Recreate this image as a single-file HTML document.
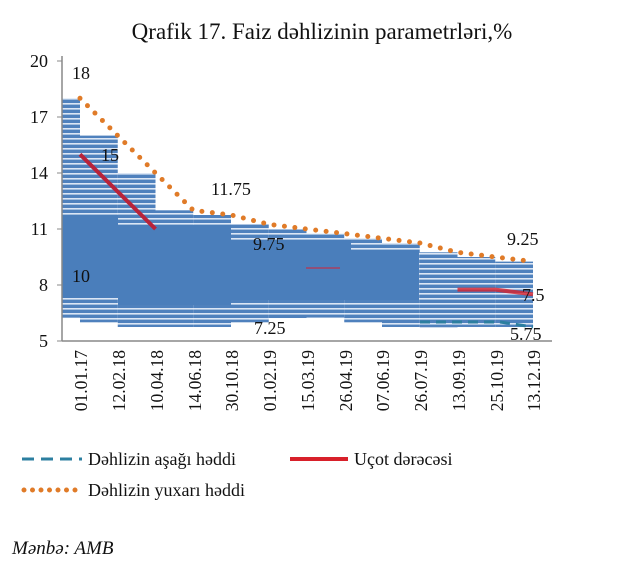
<!DOCTYPE html>
<html><head><meta charset="utf-8"><style>
html,body{margin:0;padding:0;background:#fff;width:620px;height:571px;overflow:hidden}
svg{display:block}
text{font-family:"Liberation Serif",serif;fill:#111}
</style></head><body>
<svg width="620" height="571" viewBox="0 0 620 571">
<defs>
<pattern id="st" width="6" height="5" patternUnits="userSpaceOnUse">
<rect width="6" height="5" fill="#4f81bd"/><rect y="3" width="6" height="1.6" fill="#dbe6f5"/>
</pattern>
</defs>
<text x="322" y="39" font-size="23" text-anchor="middle">Qrafik 17. Faiz dəhlizinin parametrləri,%</text>
<g fill="url(#st)">
<rect x="62" y="98.3" width="18" height="219.4"/>
<rect x="80" y="135.6" width="37.75" height="186.7"/>
<rect x="117.75" y="173" width="37.75" height="154"/>
<rect x="155.5" y="210.3" width="37.75" height="116.7"/>
<rect x="193.25" y="215" width="37.75" height="112"/>
<rect x="231" y="224.3" width="37.75" height="98"/>
<rect x="268.75" y="229" width="37.75" height="89"/>
<rect x="306.5" y="233.6" width="37.75" height="84"/>
<rect x="344.25" y="238.3" width="37.75" height="84"/>
<rect x="382" y="243" width="37.75" height="84"/>
<rect x="419.75" y="252.3" width="37.75" height="75"/>
<rect x="457.5" y="257" width="37.75" height="70"/>
<rect x="495.25" y="261.6" width="37.75" height="65.4"/>
</g>
<g fill="#4a7ebb">
<rect x="62" y="215" width="56" height="83"/>
<rect x="118" y="225" width="113" height="80"/>
<rect x="231" y="240" width="120" height="60"/>
<rect x="351" y="250" width="68" height="50"/>
</g>
<polyline points="80,154.3 117.75,191.7 155.5,229" fill="none" stroke="#b8233a" stroke-width="4"/>
<polyline points="457.5,289.6 495.25,289.6 533,294.3" fill="none" stroke="#d8202a" stroke-width="4" opacity="0.8"/>
<line x1="306" y1="268" x2="340" y2="268" stroke="#c0304a" stroke-width="2" opacity="0.6"/>
<polyline points="420,322 470,322 500,322 533,327" fill="none" stroke="#2c7fa0" stroke-width="3" stroke-dasharray="10 6"/>
<polyline points="80,98.3 117.75,135.6 155.5,173 193.25,210.3 231,215 268.75,224.3 306.5,229 344.25,233.6 382,238.3 419.75,243 457.5,252.3 495.25,257 533,261.6" fill="none" stroke="#e07b28" stroke-width="5" stroke-linecap="round" stroke-dasharray="0 10.5"/>
<line x1="62" y1="56" x2="62" y2="341" stroke="#888" stroke-width="1.5"/>
<line x1="62" y1="341" x2="552" y2="341" stroke="#888" stroke-width="1.5"/>
<g stroke="#888"><line x1="57" y1="61" x2="62" y2="61"/><line x1="57" y1="117" x2="62" y2="117"/><line x1="57" y1="173" x2="62" y2="173"/><line x1="57" y1="229" x2="62" y2="229"/><line x1="57" y1="285" x2="62" y2="285"/><line x1="57" y1="341" x2="62" y2="341"/></g>
<g font-size="18" text-anchor="end">
<text x="48" y="67">20</text><text x="48" y="123">17</text><text x="48" y="179">14</text><text x="48" y="235">11</text><text x="48" y="291">8</text><text x="48" y="347">5</text>
</g>
<g font-size="18">
<text x="72" y="79">18</text><text x="101" y="161">15</text><text x="211" y="195">11.75</text>
<text x="253" y="250">9.75</text><text x="72" y="282">10</text><text x="254" y="334">7.25</text>
<text x="507" y="245">9.25</text><text x="522" y="301">7.5</text><text x="510" y="340">5.75</text>
</g>
<g font-size="17.5" text-anchor="end">
<text transform="translate(87,350) rotate(-90)">01.01.17</text>
<text transform="translate(125,350) rotate(-90)">12.02.18</text>
<text transform="translate(163,350) rotate(-90)">10.04.18</text>
<text transform="translate(201,350) rotate(-90)">14.06.18</text>
<text transform="translate(238,350) rotate(-90)">30.10.18</text>
<text transform="translate(276,350) rotate(-90)">01.02.19</text>
<text transform="translate(314,350) rotate(-90)">15.03.19</text>
<text transform="translate(352,350) rotate(-90)">26.04.19</text>
<text transform="translate(389,350) rotate(-90)">07.06.19</text>
<text transform="translate(427,350) rotate(-90)">26.07.19</text>
<text transform="translate(465,350) rotate(-90)">13.09.19</text>
<text transform="translate(503,350) rotate(-90)">25.10.19</text>
<text transform="translate(540,350) rotate(-90)">13.12.19</text>
</g>
<line x1="22" y1="459" x2="82" y2="459" stroke="#2c7fa0" stroke-width="3" stroke-dasharray="12 7"/>
<text x="88" y="465" font-size="18">Dəhlizin aşağı həddi</text>
<line x1="290" y1="459" x2="348" y2="459" stroke="#d8202a" stroke-width="4"/>
<text x="354" y="465" font-size="18">Uçot dərəcəsi</text>
<line x1="24" y1="490" x2="82" y2="490" stroke="#e07b28" stroke-width="5" stroke-linecap="round" stroke-dasharray="0 8.5"/>
<text x="88" y="496" font-size="18">Dəhlizin yuxarı həddi</text>
<text x="12" y="554" font-size="19" font-style="italic">Mənbə: AMB</text>
</svg>
</body></html>
